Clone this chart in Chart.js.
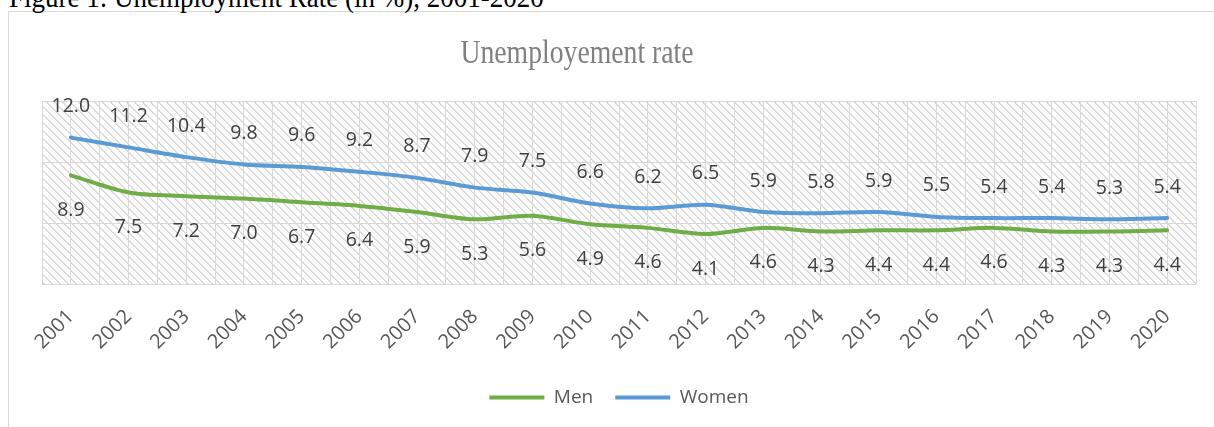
<!DOCTYPE html>
<html>
<head>
<meta charset="utf-8">
<script src="https://cdn.jsdelivr.net/npm/chart.js@4.4.1/dist/chart.umd.min.js"></script>
<style>
  html, body { margin: 0; padding: 0; width: 1214px; height: 427px; overflow: hidden; background: #ffffff; }
  #wrap { position: relative; width: 1214px; height: 427px; overflow: hidden; }
  #caption { position: absolute; left: 9px; top: -18px; font-family: "Liberation Serif", "Times New Roman", serif; font-size: 30px; line-height: 30px; color: #000; white-space: nowrap; transform: scaleX(0.9); transform-origin: left top; }
  #frame { position: absolute; left: 8px; top: 11px; width: 1300px; height: 500px; border-left: 1px solid #d9d9d9; border-top: 1px solid #d9d9d9; }
  #c { position: absolute; left: 0; top: 0; }
</style>
</head>
<body>
<div id="wrap">
  <div id="frame"></div>
  <div id="caption">Figure 1: Unemployment Rate (in %), 2001-2020</div>
  <canvas id="c" width="1214" height="427"></canvas>
</div>
<script>
const years = ["2001","2002","2003","2004","2005","2006","2007","2008","2009","2010",
               "2011","2012","2013","2014","2015","2016","2017","2018","2019","2020"];
const men   = [8.9, 7.5, 7.2, 7.0, 6.7, 6.4, 5.9, 5.3, 5.6, 4.9, 4.6, 4.1, 4.6, 4.3, 4.4, 4.4, 4.6, 4.3, 4.3, 4.4];
const women = [12.0, 11.2, 10.4, 9.8, 9.6, 9.2, 8.7, 7.9, 7.5, 6.6, 6.2, 6.5, 5.9, 5.8, 5.9, 5.5, 5.4, 5.4, 5.3, 5.4];
const chartTitle = "Unemployement rate";
const seriesNames = ["Men", "Women"];

const GREEN = "#70AD47";
const BLUE = "#5B9BD5";
const LABEL_FONT = '"Open Sans", "Noto Sans", sans-serif';

// hatch pattern (downward diagonal)
function makeHatch() {
  const p = document.createElement("canvas");
  p.width = 8; p.height = 8;
  const g = p.getContext("2d");
  const img = g.createImageData(8, 8);
  for (let y = 0; y < 8; y++) {
    for (let x = 0; x < 8; x++) {
      const d = ((x - y) % 8 + 8) % 8;
      const i = (y * 8 + x) * 4;
      let v = 255;
      if (d === 0) v = 212; else if (d === 1) v = 226;
      img.data[i] = v; img.data[i+1] = v; img.data[i+2] = v; img.data[i+3] = 255;
    }
  }
  g.putImageData(img, 0, 0);
  return p;
}
const hatchCanvas = makeHatch();

const bgPlugin = {
  id: "hatchBg",
  beforeDraw(chart) {
    const { ctx, chartArea: a } = chart;
    ctx.save();
    ctx.fillStyle = ctx.createPattern(hatchCanvas, "repeat");
    ctx.fillRect(a.left, a.top, a.right - a.left, a.bottom - a.top);
    ctx.restore();
  }
};

const titlePlugin = {
  id: "customTitle",
  afterDraw(chart) {
    const ctx = chart.ctx;
    ctx.save();
    ctx.translate(577, 63);
    ctx.scale(0.84, 1);
    ctx.font = '33px "Liberation Serif", "Times New Roman", serif';
    ctx.fillStyle = "#808080";
    ctx.textAlign = "center";
    ctx.textBaseline = "alphabetic";
    ctx.fillText(chartTitle, 0, 0);
    ctx.restore();
  }
};

const labelPlugin = {
  id: "valueLabels",
  afterDatasetsDraw(chart) {
    const ctx = chart.ctx;
    ctx.save();
    ctx.font = '19.5px ' + LABEL_FONT;
    ctx.fillStyle = "#404040";
    ctx.textAlign = "center";
    ctx.textBaseline = "middle";
    chart.data.datasets.forEach((ds, di) => {
      const meta = chart.getDatasetMeta(di);
      const off = ds.labelOffset;
      meta.data.forEach((el, i) => {
        ctx.fillText(ds.data[i].toFixed(1), el.x, el.y + off);
      });
    });
    ctx.restore();
  }
};

new Chart(document.getElementById("c"), {
  type: "line",
  data: {
    labels: years,
    datasets: [
      { label: seriesNames[0], data: men, borderColor: GREEN, backgroundColor: GREEN,
        borderWidth: 4, pointRadius: 0, tension: 0.3, labelOffset: 35, borderCapStyle: "round" },
      { label: seriesNames[1], data: women, borderColor: BLUE, backgroundColor: BLUE,
        borderWidth: 4, pointRadius: 0, tension: 0.3, labelOffset: -31, borderCapStyle: "round" }
    ]
  },
  options: {
    responsive: false,
    animation: false,
    devicePixelRatio: 1,
    layout: { padding: { top: 101, left: 42, right: 18, bottom: 10 } },
    plugins: {
      title: { display: false },
      tooltip: { enabled: false },
      legend: {
        position: "bottom",
        labels: {
          boxWidth: 55,
          boxHeight: 4,
          color: "#595959",
          font: { family: LABEL_FONT, size: 19 },
          padding: 22,
          generateLabels(chart) {
            const items = Chart.defaults.plugins.legend.labels.generateLabels(chart);
            items.forEach(it => { it.lineWidth = 0; it.fontColor = "#595959"; });
            return items;
          }
        }
      }
    },
    scales: {
      x: {
        type: "category",
        offset: true,
        grid: { display: false, drawTicks: false },
        border: { display: false },
        ticks: {
          minRotation: 45, maxRotation: 45, autoSkip: false,
          padding: 21,
          color: "#595959",
          font: { family: LABEL_FONT, size: 20 }
        },
        afterFit(s) { s.height = 82; }
      },
      x2: {
        type: "linear",
        position: "bottom",
        min: 0, max: 40,
        ticks: { display: false, stepSize: 1 },
        grid: { color: "#d9d9d9", lineWidth: 1, drawTicks: false },
        border: { display: false },
        afterFit(s) { s.height = 0; }
      },
      y: {
        min: 0, max: 15,
        ticks: { display: false, stepSize: 5 },
        grid: { color: "#d9d9d9", lineWidth: 1, drawTicks: false },
        border: { display: false },
        afterFit(s) { s.width = 0; }
      }
    }
  },
  plugins: [bgPlugin, labelPlugin, titlePlugin]
});
</script>
</body>
</html>
